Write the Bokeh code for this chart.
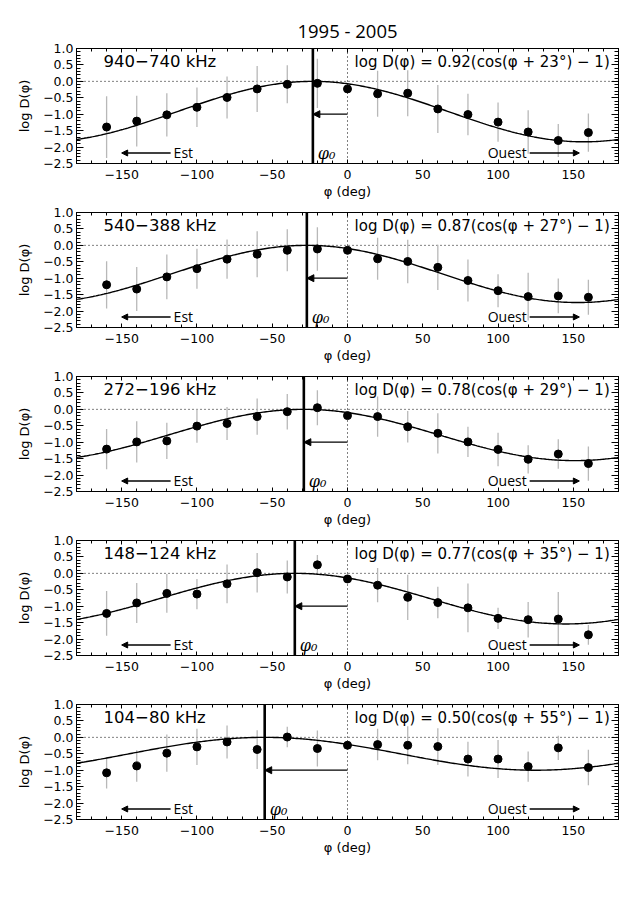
import numpy as np
from bokeh.plotting import figure
from bokeh.models import (Range1d, LinearAxis, SingleIntervalTicker, Span, Arrow,
                          NormalHead, Label, CustomJSTickFormatter)
from bokeh.layouts import column
from bokeh.embed import file_html
from bokeh.resources import INLINE

# ---------------- data ----------------
phi = [-160, -140, -120, -100, -80, -60, -40, -20, 0, 20, 40, 60, 80, 100, 120, 140, 160]

title = "1995 - 2005"
freq_labels = ["940\u2212740 kHz", "540\u2212388 kHz", "272\u2212196 kHz",
               "148\u2212124 kHz", "104\u221280 kHz"]
amplitudes = [0.92, 0.87, 0.78, 0.77, 0.50]
shifts = [23, 27, 29, 35, 55]

logd_1 = [-1.39, -1.21, -1.02, -0.79, -0.49, -0.23, -0.09, -0.06, -0.23, -0.38, -0.36, -0.84, -1.01, -1.24, -1.54, -1.80, -1.56]
err_1 = [0.94, 0.77, 0.66, 0.60, 0.64, 0.70, 0.58, 0.75, 0.0, 0.70, 0.70, 0.73, 0.63, 0.60, 0.66, 0.50, 0.58]

logd_2 = [-1.20, -1.33, -0.96, -0.71, -0.42, -0.27, -0.15, -0.11, -0.15, -0.41, -0.49, -0.67, -1.07, -1.38, -1.56, -1.54, -1.58]
err_2 = [0.72, 0.67, 0.68, 0.61, 0.60, 0.70, 0.64, 0.66, 0.0, 0.64, 0.66, 0.69, 0.64, 0.50, 0.73, 0.53, 0.53]

logd_3 = [-1.21, -0.99, -0.96, -0.51, -0.43, -0.22, -0.07, 0.05, -0.19, -0.22, -0.53, -0.73, -0.99, -1.22, -1.52, -1.36, -1.65]
err_3 = [0.61, 0.63, 0.55, 0.51, 0.50, 0.55, 0.54, 0.53, 0.0, 0.61, 0.48, 0.61, 0.46, 0.51, 0.43, 0.45, 0.52]

logd_4 = [-1.22, -0.90, -0.61, -0.63, -0.32, 0.02, -0.11, 0.26, -0.17, -0.36, -0.73, -0.89, -1.05, -1.37, -1.41, -1.39, -1.87]
err_4 = [0.68, 0.61, 0.59, 0.46, 0.59, 0.60, 0.50, 0.30, 0.0, 0.52, 0.69, 0.48, 0.74, 0.32, 0.54, 0.82, 0.30]

logd_5 = [-1.08, -0.87, -0.48, -0.29, -0.14, -0.37, 0.01, -0.34, -0.24, -0.22, -0.24, -0.28, -0.66, -0.66, -0.89, -0.32, -0.92]
err_5 = [0.48, 0.48, 0.57, 0.55, 0.50, 0.59, 0.31, 0.55, 0.0, 0.48, 0.58, 0.56, 0.53, 0.58, 0.46, 0.37, 0.54]

all_logd = [logd_1, logd_2, logd_3, logd_4, logd_5]
all_err = [err_1, err_2, err_3, err_4, err_5]

x_ticks_interval = 50
y_ticks_interval = 0.5

# ---------------- styling helpers ----------------
TICK_FONT = "DejaVu Sans"
SANS2 = "Open Sans"

X_FMT = "return (tick < 0 ? '\\u2212' : '') + Math.abs(tick).toFixed(0);"
Y_FMT = "return (tick < 0 ? '\\u2212' : '') + Math.abs(tick).toFixed(1);"


def style_axis(ax, is_x, labels=True):
    ax.axis_line_color = "black"
    ax.axis_line_width = 1
    ax.major_tick_out = 0
    ax.minor_tick_out = 0
    if is_x:
        ax.major_tick_in = 4
        ax.minor_tick_in = 3
    else:
        ax.major_tick_in = 7
        ax.minor_tick_in = 4
    ax.major_tick_line_color = "black"
    ax.minor_tick_line_color = "black"
    ax.major_label_text_font = TICK_FONT
    ax.major_label_text_font_size = "12.5px"
    ax.major_label_text_color = "black"
    ax.axis_label_text_font = TICK_FONT
    ax.axis_label_text_font_size = "13px"
    ax.axis_label_text_font_style = "normal"
    ax.axis_label_text_color = "black"
    if labels:
        ax.formatter = CustomJSTickFormatter(code=X_FMT if is_x else Y_FMT)
    else:
        ax.formatter = CustomJSTickFormatter(code="return ''")
        ax.major_label_standoff = 0


def make_panel(i):
    first = (i == 0)
    A = amplitudes[i]
    s = shifts[i]
    p = figure(frame_width=542, frame_height=115,
               x_range=Range1d(-180, 180), y_range=Range1d(-2.5, 1.0),
               output_backend="svg", toolbar_location=None,
               min_border_left=76, min_border_right=12,
               min_border_top=48 if first else 9, min_border_bottom=40,
               x_axis_label="\u03c6 (deg)", y_axis_label="log D(\u03c6)",
               background_fill_color="white", border_fill_color="white")
    p.grid.visible = False
    p.outline_line_color = "black"
    p.outline_line_width = 1

    xt = SingleIntervalTicker(interval=x_ticks_interval, num_minor_ticks=5)
    yt = SingleIntervalTicker(interval=y_ticks_interval, num_minor_ticks=5)
    p.xaxis.ticker = xt
    p.yaxis.ticker = yt
    style_axis(p.xaxis[0], True)
    style_axis(p.yaxis[0], False)
    p.xaxis[0].major_label_standoff = 6
    p.xaxis[0].axis_label_standoff = 2
    p.yaxis[0].major_label_standoff = 3
    p.yaxis[0].axis_label_standoff = 8

    ra = LinearAxis(ticker=SingleIntervalTicker(interval=y_ticks_interval, num_minor_ticks=5))
    style_axis(ra, False, labels=False)
    p.add_layout(ra, "right")
    ta = LinearAxis(ticker=SingleIntervalTicker(interval=x_ticks_interval, num_minor_ticks=5))
    style_axis(ta, True, labels=False)
    p.add_layout(ta, "above")

    if first:
        p.title.text = title
        p.title.align = "center"
        p.title.text_font = SANS2
        p.title.text_font_size = "18.5px"
        p.title.text_font_style = "normal"
        p.title.text_color = "black"
        p.title.standoff = 12

    # reference lines
    p.add_layout(Span(location=0, dimension="width", line_color="black",
                      line_width=1, line_dash="1 3", level="underlay"))
    p.add_layout(Span(location=0, dimension="height", line_color="black",
                      line_width=1, line_dash="1 3", level="underlay"))

    # error bars
    y = np.array(all_logd[i])
    e = np.array(all_err[i])
    p.segment(x0=phi, y0=y - e, x1=phi, y1=y + e, line_color="#b8b8b8", line_width=1.3)

    # fitted curve (from the parameters printed on the chart)
    xc = np.linspace(-180, 180, 361)
    yc = A * (np.cos(np.radians(xc + s)) - 1)
    p.line(xc, yc, line_color="black", line_width=1.4)

    # points
    p.scatter(phi, y, size=8, fill_color="black", line_color="black")

    # phi0 line
    p.add_layout(Span(location=-s, dimension="height", line_color="black", line_width=2.6))
    p.add_layout(Arrow(end=NormalHead(size=7, fill_color="black", line_color="black", line_width=1),
                       x_start=0, y_start=-1.0, x_end=-s, y_end=-1.0,
                       line_color="black", line_width=1.3))
    p.add_layout(Label(x=-s, y=-2.2, x_offset=5, text="\u03c6\u2080",
                       text_font="DejaVu Serif", text_font_style="italic",
                       text_font_size="16px", text_baseline="middle", text_color="black"))

    # Est / Ouest arrows
    p.add_layout(Arrow(end=NormalHead(size=6, fill_color="black", line_color="black", line_width=1),
                       x_start=-117.5, y_start=-2.18, x_end=-150, y_end=-2.18,
                       line_color="black", line_width=1.3))
    p.add_layout(Label(x=-115.5, y=-2.18, text="Est", text_font=SANS2,
                       text_font_size="14px", text_baseline="middle", text_color="black"))
    p.add_layout(Arrow(end=NormalHead(size=6, fill_color="black", line_color="black", line_width=1),
                       x_start=121, y_start=-2.18, x_end=154, y_end=-2.18,
                       line_color="black", line_width=1.3))
    p.add_layout(Label(x=119, y=-2.18, text="Ouest", text_font=SANS2, text_align="right",
                       text_font_size="14px", text_baseline="middle", text_color="black"))

    # texts
    p.add_layout(Label(x=-162, y=0.6, text=freq_labels[i], text_font=TICK_FONT,
                       text_font_size="16.5px", text_baseline="middle", text_color="black"))
    formula = "log D(\u03c6)  = %.2f(cos(\u03c6 + %d\u00b0) \u2212 1)" % (A, s)
    p.add_layout(Label(x=4.7, y=0.6, text=formula, text_font=TICK_FONT,
                       text_font_size="15px", text_baseline="middle", text_color="black"))
    return p


panels = [make_panel(i) for i in range(5)]
layout = column(*panels, spacing=0)

open("out.html", "w").write(file_html(layout, INLINE))
